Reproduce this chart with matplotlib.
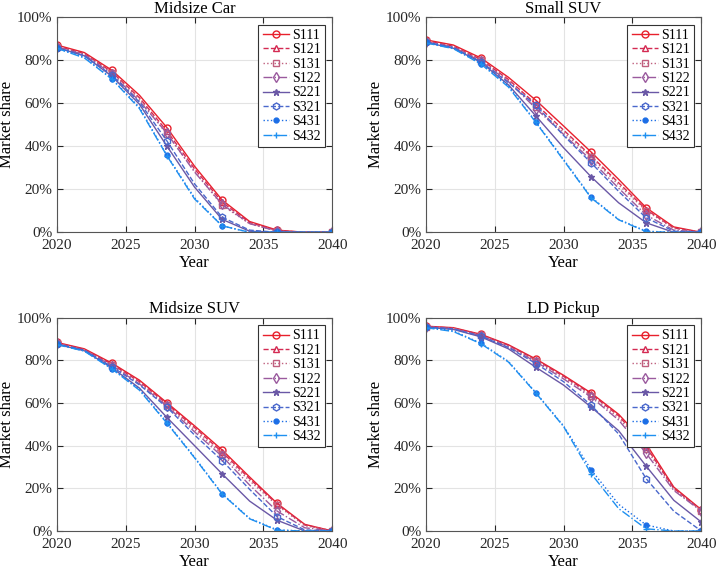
import numpy as np
import matplotlib.pyplot as plt
from matplotlib.ticker import FuncFormatter

plt.rcParams['font.family'] = ['Liberation Serif', 'DejaVu Serif']

years = [2020, 2022, 2024, 2026, 2028, 2030, 2032, 2034, 2036, 2038, 2040]
scenarios = ['S111', 'S121', 'S131', 'S122', 'S221', 'S321', 'S431', 'S432']
titles = ['Midsize Car', 'Small SUV', 'Midsize SUV', 'LD Pickup']

# market share (%) per scenario
midsize_car = [
    [87.0, 83.5, 75.3, 63.7, 48.6, 30.7, 15.0, 5.0, 1.0, 0, 0],
    [86.5, 83.0, 74.5, 62.5, 47.0, 29.5, 14.0, 4.5, 0.8, 0, 0],
    [86.3, 82.8, 74.0, 62.0, 45.5, 28.5, 12.5, 4.0, 0.6, 0, 0],
    [86.2, 82.5, 73.5, 61.0, 46.0, 28.0, 13.0, 4.0, 0.5, 0, 0],
    [85.8, 82.0, 72.5, 59.5, 40.0, 21.0, 6.0, 0.5, 0, 0, 0],
    [85.8, 82.0, 73.0, 60.5, 42.4, 22.5, 7.0, 1.0, 0, 0, 0],
    [85.5, 81.2, 71.4, 58.0, 35.7, 16.0, 3.0, 0, 0, 0, 0],
    [85.5, 81.0, 71.2, 57.5, 35.5, 15.5, 3.0, 0, 0, 0, 0],
]
small_suv = [
    [89.4, 87.0, 81.0, 72.0, 61.3, 49.4, 37.3, 24.6, 11.4, 2.5, 0],
    [89.0, 86.5, 80.3, 71.0, 59.5, 47.5, 35.5, 23.0, 10.5, 2.0, 0],
    [88.8, 86.3, 80.0, 70.5, 58.0, 46.5, 35.0, 22.0, 10.0, 1.8, 0],
    [88.6, 86.0, 79.5, 70.0, 57.5, 45.5, 33.5, 20.5, 8.0, 1.0, 0],
    [88.2, 85.5, 79.0, 68.5, 54.0, 39.3, 25.8, 13.7, 4.4, 0, 0],
    [88.4, 85.8, 79.3, 69.5, 59.0, 45.0, 32.3, 19.0, 6.7, 0.5, 0],
    [88.2, 85.5, 78.4, 68.0, 51.2, 33.9, 16.3, 6.0, 0.5, 0, 0],
    [88.0, 85.3, 78.2, 67.5, 51.0, 33.5, 16.0, 5.8, 0.3, 0, 0],
]
midsize_suv = [
    [88.4, 85.4, 78.7, 70.7, 60.1, 49.3, 38.0, 25.3, 12.9, 3.1, 0],
    [88.2, 85.1, 78.2, 70.0, 59.5, 48.5, 37.0, 24.5, 12.5, 2.8, 0],
    [88.0, 84.9, 77.8, 69.5, 59.0, 47.5, 36.0, 23.5, 12.0, 2.5, 0],
    [87.9, 84.8, 77.5, 69.0, 58.5, 46.5, 35.0, 21.5, 9.3, 1.5, 0],
    [87.5, 84.5, 76.5, 67.0, 53.2, 40.0, 26.8, 14.0, 5.0, 0, 0],
    [87.7, 84.7, 77.0, 68.5, 58.0, 45.0, 33.0, 19.5, 6.7, 0.5, 0],
    [87.5, 84.5, 76.1, 66.4, 50.8, 34.6, 17.5, 5.9, 0.5, 0, 0],
    [87.4, 84.3, 76.0, 66.0, 50.5, 34.3, 17.3, 5.7, 0.3, 0, 0],
]
ld_pickup = [
    [96.0, 95.3, 92.2, 87.3, 80.6, 73.0, 64.7, 54.7, 40.8, 20.6, 10.0],
    [95.9, 95.1, 92.0, 87.0, 80.2, 72.5, 64.2, 54.0, 39.5, 20.0, 9.7],
    [95.8, 95.0, 91.8, 86.7, 79.8, 72.0, 63.5, 53.0, 38.5, 19.5, 9.5],
    [95.8, 94.9, 91.5, 86.3, 79.3, 71.3, 62.8, 52.0, 36.4, 19.0, 9.3],
    [95.5, 94.5, 91.0, 85.4, 76.7, 68.4, 58.1, 47.0, 30.4, 14.4, 4.2],
    [95.6, 94.7, 91.3, 86.0, 78.5, 70.0, 59.0, 45.5, 24.5, 9.3, 0],
    [95.5, 93.8, 88.0, 79.5, 64.8, 49.3, 28.7, 12.5, 2.8, 0, 0],
    [95.3, 93.5, 87.8, 79.2, 64.6, 49.0, 26.9, 10.5, 1.0, 0, 0],
]
panels = [midsize_car, small_suv, midsize_suv, ld_pickup]

colors = ['#e8202c', '#d42a52', '#c0607e', '#9a5a9e', '#6a58a6',
          '#4a68cc', '#1c6ee6', '#1e90f0']
styles = ['-', '--', ':', '-.', '-', '--', ':', '-.']
markers = ['o', '^', 's', 'd', '*', 'h', '.', '+']
fills = ['none', 'none', 'none', 'none', 'full', 'none', 'full', 'full']

fig = plt.figure(figsize=(7.19, 5.71), dpi=100)
positions = [
    [0.0789, 0.5932, 0.3833, 0.377],
    [0.5921, 0.5932, 0.3833, 0.377],
    [0.0789, 0.0701, 0.3833, 0.3736],
    [0.5921, 0.0701, 0.3833, 0.3736],
]

for pos, title, data in zip(positions, titles, panels):
    ax = fig.add_axes(pos)
    for i, name in enumerate(scenarios):
        mfc = 'none' if fills[i] == 'none' else colors[i]
        ax.plot(years, data[i], linestyle=styles[i], color=colors[i],
                marker=markers[i], markevery=2,
                markersize=5 if markers[i] != '.' else 7,
                markerfacecolor=mfc, markeredgecolor=colors[i],
                linewidth=1.0, label=name)
    ax.set_xlim(2020, 2040)
    ax.set_ylim(0, 100)
    ax.set_xticks([2020, 2025, 2030, 2035, 2040])
    ax.set_yticks([0, 20, 40, 60, 80, 100])
    ax.yaxis.set_major_formatter(FuncFormatter(lambda v, p: '%d%%' % v))
    ax.grid(True, color='#e3e3e3', linewidth=0.8)
    ax.set_axisbelow(True)
    ax.tick_params(direction='in', top=True, right=True, length=4,
                   labelsize=11, colors='#262626')
    ax.tick_params(axis='x', pad=5)
    ax.tick_params(axis='y', pad=3)
    for s in ax.spines.values():
        s.set_color('#555555')
        s.set_linewidth(0.8)
    ax.set_title(title, fontsize=12, pad=3)
    ax.set_xlabel('Year', fontsize=12, labelpad=2)
    ax.set_ylabel('Market share', fontsize=12)
    ax.yaxis.set_label_coords(-0.15, 0.5)
    leg = ax.legend(loc='upper right', fontsize=10, fancybox=False,
                    framealpha=1, edgecolor='#333333', borderpad=0.3,
                    labelspacing=0.1, handlelength=1.9, handletextpad=0.2,
                    borderaxespad=0.55)
    leg.get_frame().set_linewidth(0.8)

fig.savefig('out.png', dpi=100)
